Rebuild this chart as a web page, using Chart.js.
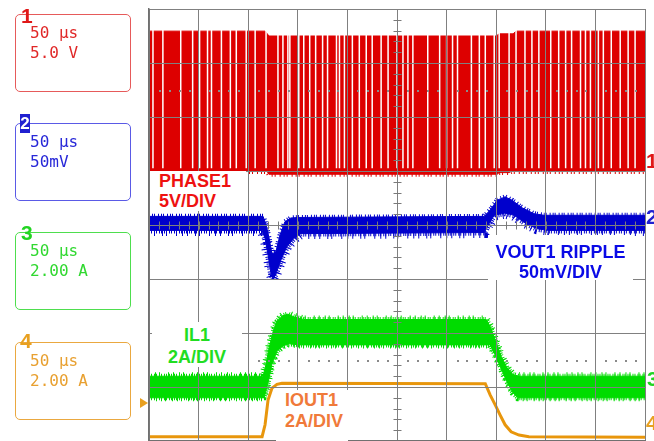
<!DOCTYPE html>
<html>
<head>
<meta charset="utf-8">
<script src="https://cdn.jsdelivr.net/npm/chart.js@4"></script>
<style>
  body { margin: 0; background: #fff; overflow: hidden; }
  #wrap { position: relative; width: 654px; height: 441px; overflow: hidden; }
  #scope { position: absolute; left: 0; top: 0; }
  .box { position: absolute; left: 15px; width: 114px; height: 76px; border: 1.5px solid; border-radius: 5px; }
  .info { position: absolute; left: 30px; font: 16px "DejaVu Sans Mono", monospace; line-height: 20px; white-space: pre; }
  .num { position: absolute; font: bold 21px "Liberation Sans", Arial, sans-serif; line-height: 21px; }
  .lbl { position: absolute; background: #fff; font: bold 18px "Liberation Sans", Arial, sans-serif; line-height: 20px; white-space: pre; }
</style>
</head>
<body>
<div id="wrap">
  <canvas id="scope" width="654" height="441"></canvas>

  <div class="box" style="top:14px; border-color:#e65a5a"></div>
  <div class="num" style="left:21px; top:5px; color:#e01818">1</div>
  <div class="info" style="top:23px; color:#e02828">50 µs
5.0 V</div>

  <div class="box" style="top:123px; border-color:#5a5ae6"></div>
  <div class="num" style="left:20px; top:114px; width:10px; height:19px; background:#2020d0; color:#fff; font-size:17px; line-height:19px; text-align:center">2</div>
  <div class="info" style="top:132px; color:#2828d8">50 µs
50mV</div>

  <div class="box" style="top:232px; border-color:#4ede4e"></div>
  <div class="num" style="left:21px; top:222px; color:#22d422">3</div>
  <div class="info" style="top:241px; color:#30d830">50 µs
2.00 A</div>

  <div class="box" style="top:342px; border-color:#eaa840"></div>
  <div class="num" style="left:20px; top:330px; color:#e8a020">4</div>
  <div class="info" style="top:351px; color:#e8a030">50 µs
2.00 A</div>

  <div style="position:absolute; left:140px; top:398px; width:0; height:0; border-top:5px solid transparent; border-bottom:5px solid transparent; border-left:8px solid #e8a020"></div>

  <div class="num" style="left:646px; top:150px; color:#e01818">1</div>
  <div class="num" style="left:646px; top:206px; color:#2020d0">2</div>
  <div class="num" style="left:647px; top:368px; color:#22d422">3</div>
  <div class="num" style="left:646px; top:412px; color:#e8a020">4</div>

  <div class="lbl" style="left:150px; top:171px; width:87px; height:40px; padding-left:9px; color:#ee1111">PHASE1
5V/DIV</div>
  <div class="lbl" style="left:488px; top:235px; width:145px; height:38px; padding-top:7px; text-align:center; color:#0a0ae6">VOUT1 RIPPLE
50mV/DIV</div>
  <div class="lbl" style="left:152px; top:322px; width:90px; height:43px; padding-top:2px; line-height:22px; text-align:center; color:#22dd22">IL1
2A/DIV</div>
  <div class="lbl" style="left:276px; top:390px; width:63px; height:51px; padding-left:9px; line-height:21px; color:#f07a3a">IOUT1
2A/DIV</div>
</div>

<script>
// time axis in µs (50 µs/div, 10 div), vertical axis in screen divisions (8 div)
const timeSpan = [0, 500];
const divSpan = [0, 8];

// CH1 PHASE1 switching envelope  [t, div]
const phaseTop = [[0, 7.59], [117, 7.59], [121, 7.50], [350, 7.50], [353, 7.54], [367, 7.54], [370, 7.59], [500, 7.59]];
const phaseBottom = [[0, 4.99], [119, 4.99], [121, 4.94], [351, 4.94], [353, 4.97], [363, 4.97], [365, 4.99], [500, 4.99]];
// white gaps between switching pulses
const phaseGaps = [4, 14, 32, 44, 51, 59, 63, 73, 82, 88, 98, 107, 118, 130, 135, 140, 142, 151, 156, 162,
  168, 175, 180, 189, 192, 197, 205, 212, 219, 225, 234, 241, 250, 256, 261, 266, 281, 293, 300, 306,
  311, 325, 333, 339, 348, 353, 363, 370, 379, 386, 393, 405, 413, 420, 426, 435, 440, 445, 453, 458,
  466, 475, 483, 490];

// CH2 VOUT1 ripple band (solid body, noise drawn on its edges)
const voutTop = [[0, 4.16], [115, 4.16], [118, 4.01], [121, 3.76], [124, 3.46], [128, 3.51], [132, 3.81],
  [137, 4.06], [143, 4.13], [151, 4.14], [338, 4.16], [344, 4.28], [351, 4.46], [359, 4.52], [366, 4.46],
  [376, 4.32], [388, 4.21], [398, 4.18], [500, 4.18]];
const voutBottom = [[0, 3.90], [114, 3.90], [117, 3.75], [120, 3.45], [123, 3.10], [125, 3.00], [128, 3.10],
  [133, 3.35], [139, 3.60], [146, 3.75], [153, 3.84], [338, 3.86], [342, 4.00], [348, 4.18], [359, 4.22],
  [368, 4.18], [378, 4.05], [391, 3.93], [403, 3.90], [500, 3.90]];

// CH3 IL1 inductor current band
const ilTop = [[0, 1.20], [115, 1.20], [118, 1.42], [121, 1.72], [125, 2.02], [129, 2.22], [135, 2.32],
  [140, 2.35], [146, 2.30], [156, 2.25], [340, 2.25], [344, 2.12], [349, 1.87], [355, 1.57], [361, 1.35],
  [367, 1.23], [373, 1.20], [500, 1.20]];
const ilBottom = [[0, 0.80], [116, 0.80], [120, 1.08], [124, 1.43], [129, 1.66], [135, 1.76], [141, 1.80],
  [151, 1.78], [344, 1.78], [349, 1.59], [355, 1.34], [361, 1.09], [367, 0.89], [372, 0.80], [500, 0.80]];

// CH4 IOUT1 load current
const ioutTrace = [[0, 0.08], [114, 0.08], [117, 0.30], [120, 0.76], [124, 0.98], [129, 1.05], [134, 1.07],
  [339, 1.06], [344, 0.85], [349, 0.67], [354, 0.48], [359, 0.30], [365, 0.17], [373, 0.11], [383, 0.08],
  [500, 0.07]];

const gapLow = 5.05;
const gapHigh = 7.75;

const pts = arr => arr.map(p => ({ x: p[0], y: p[1] }));
const gapSegments = [];
phaseGaps.forEach(t => {
  gapSegments.push({ x: t, y: gapLow }, { x: t, y: gapHigh }, { x: t, y: null });
});

const red = '#dd0000';
const blue = '#0000cc';
const green = '#00dc00';
const orange = '#e8960c';

// center-axis minor ticks and the two dotted marker rows of the graticule
const graticule = {
  id: 'graticule',
  afterDraw(chart) {
    const { ctx, scales: { x, y } } = chart;
    ctx.save();
    ctx.strokeStyle = '#7a7a7a';
    ctx.lineWidth = 1;
    const cx = Math.round(x.getPixelForValue(250)) + 0.5;
    const cy = Math.round(y.getPixelForValue(4)) + 0.5;
    ctx.beginPath();
    for (let v = 0.2; v < 8; v += 0.2) {
      const py = Math.round(y.getPixelForValue(v)) + 0.5;
      ctx.moveTo(cx - 4, py); ctx.lineTo(cx + 4, py);
    }
    for (let t = 10; t < 500; t += 10) {
      const px = Math.round(x.getPixelForValue(t)) + 0.5;
      ctx.moveTo(px, cy - 4); ctx.lineTo(px, cy + 4);
    }
    ctx.stroke();
    ctx.fillStyle = '#8a8a8a';
    [1.5, 6.5].forEach(row => {
      const py = Math.round(y.getPixelForValue(row));
      for (let t = 10; t < 500; t += 10) {
        if (t % 50 === 0) continue;
        ctx.fillRect(Math.round(x.getPixelForValue(t)), py, 2, 2);
      }
    });
    ctx.restore();
  }
};

const line = (data, color, extra) => Object.assign({
  data: pts(data), borderColor: color, borderWidth: 1, pointRadius: 0, tension: 0, fill: false
}, extra);
// a wide dashed stroke along a band edge gives the spiky noise look of the scope trace
const fuzz = (data, color, width, dash, order) => line(data, color, { borderWidth: width, borderDash: dash, order: order });

new Chart(document.getElementById('scope'), {
  type: 'line',
  data: {
    datasets: [
      line(phaseTop, red, { order: 10 }),
      line(phaseBottom, red, { order: 10, fill: '-1', backgroundColor: red }),
      fuzz(phaseBottom, red, 5, [1, 3, 1, 2, 1, 4], 10),
      { data: gapSegments, borderColor: '#ffffff', borderWidth: 1.5, pointRadius: 0, spanGaps: false, order: 9 },
      line(voutTop, blue, { order: 8 }),
      line(voutBottom, blue, { order: 8, fill: '-1', backgroundColor: blue }),
      fuzz(voutTop, blue, 5, [1, 2, 1, 1, 1, 3], 8),
      fuzz(voutBottom, blue, 6, [1, 1, 1, 2], 8),
      fuzz(voutBottom, blue, 11, [1, 4, 1, 7, 1, 3, 1, 9, 1, 5], 8),
      line(ilTop, green, { order: 7 }),
      line(ilBottom, green, { order: 7, fill: '-1', backgroundColor: green }),
      fuzz(ilTop, green, 5, [1, 1, 1, 2], 7),
      fuzz(ilTop, green, 8, [1, 5, 1, 3, 1, 8, 1, 4], 7),
      fuzz(ilBottom, green, 5, [1, 1, 1, 2], 7),
      fuzz(ilBottom, green, 7, [1, 6, 1, 4, 1, 3], 7),
      line(ioutTrace, orange, { order: 1, borderWidth: 3 })
    ]
  },
  options: {
    responsive: false,
    animation: false,
    events: [],
    layout: { padding: { left: 149, top: 9, right: 9, bottom: 0 } },
    plugins: { legend: { display: false }, tooltip: { enabled: false } },
    scales: {
      x: {
        type: 'linear', min: timeSpan[0], max: timeSpan[1],
        ticks: { display: false, stepSize: 50 },
        grid: { color: '#808080', lineWidth: 1, drawTicks: false, z: 1 },
        border: { display: true, color: '#707070', width: 1.5, z: 1 }
      },
      y: {
        type: 'linear', min: divSpan[0], max: divSpan[1],
        ticks: { display: false, stepSize: 1 },
        grid: { color: '#808080', lineWidth: 1, drawTicks: false, z: 1 },
        border: { display: true, color: '#707070', width: 1.5, z: 1 }
      }
    }
  },
  plugins: [graticule]
});
</script>
</body>
</html>
